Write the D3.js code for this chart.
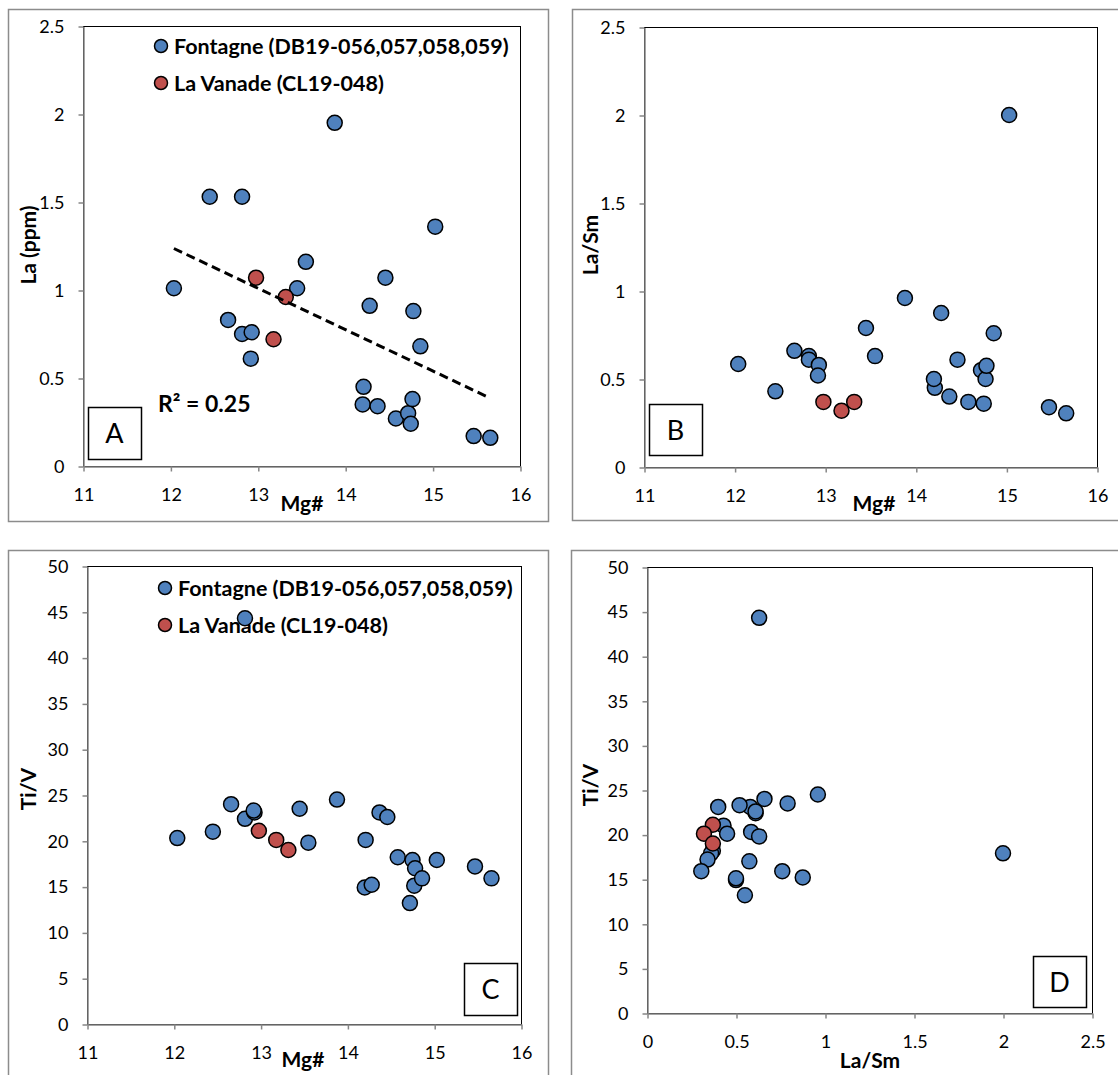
<!DOCTYPE html>
<html>
<head>
<meta charset="utf-8">
<script src="https://cdn.jsdelivr.net/npm/d3@7"></script>
<style>
  body { margin: 0; background: #fff; }
  svg { display: block; }
  text { font-family: Lato, "Open Sans", sans-serif; fill: #000; }
</style>
</head>
<body>
<svg id="chart" width="1118" height="1075"></svg>
<script>
// Fontagne samples (DB19-056, 057, 058, 059)
const mgFontagne   = [12.04, 12.45, 12.66, 12.82, 12.82, 12.93, 12.92, 13.45, 13.55, 13.88, 14.21, 14.20, 14.28, 14.37, 14.46, 14.58, 14.72, 14.75, 14.77, 14.78, 14.86, 15.03, 15.47, 15.66];
const laFontagne   = [1.01, 1.53, 0.83, 1.53, 0.75, 0.76, 0.61, 1.01, 1.16, 1.95, 0.45, 0.35, 0.91, 0.34, 1.07, 0.27, 0.30, 0.24, 0.38, 0.88, 0.68, 1.36, 0.17, 0.16];
const laSmFontagne = [0.585, 0.43, 0.66, 0.63, 0.61, 0.58, 0.52, 0.79, 0.63, 0.96, 0.45, 0.50, 0.875, 0.40, 0.61, 0.37, 0.55, 0.36, 0.50, 0.575, 0.76, 2.00, 0.34, 0.305];
const tiVFontagne  = [20.3, 21.0, 24.0, 44.3, 22.4, 23.1, 23.3, 23.5, 19.8, 24.5, 20.1, 14.9, 15.2, 23.1, 22.6, 18.2, 13.2, 17.9, 15.1, 17.0, 15.9, 17.9, 17.2, 15.9];

// La Vanade samples (CL19-048)
const mgVanade   = [12.98, 13.18, 13.32];
const laVanade   = [1.07, 0.72, 0.96];
const laSmVanade = [0.37, 0.32, 0.37];
const tiVVanade  = [21.1, 20.1, 19.0];

// Linear trend of La vs Mg# for the Fontagne series
const trendSlope = -0.2349;
const trendIntercept = 4.064;
const trendR2Label = "R² = 0.25";

// Axis ticks
const mgTicks   = [11, 12, 13, 14, 15, 16];
const laTicks   = [0, 0.5, 1, 1.5, 2, 2.5];
const laSmTicks = [0, 0.5, 1, 1.5, 2, 2.5];
const tiVTicks  = [0, 5, 10, 15, 20, 25, 30, 35, 40, 45, 50];

const seriesNames = ["Fontagne (DB19-056,057,058,059)", "La Vanade (CL19-048)"];
const seriesColors = ["#4F81BD", "#C0504D"];

const svg = d3.select("#chart");
const gray = "#868686";

function zip(xs, ys) { return xs.map((x, i) => ({ x, y: ys[i] })); }

function drawPanel(p) {
  const g = svg.append("g");

  // chart frame
  g.append("rect")
    .attr("x", p.frame[0] + 0.5).attr("y", p.frame[1] + 0.5)
    .attr("width", p.frame[2]).attr("height", p.frame[3])
    .attr("fill", "#fff").attr("stroke", "#8c8c8c").attr("stroke-width", 1.5);

  const x = d3.scaleLinear().domain(p.xDomain).range([p.plot.l, p.plot.r]);
  const y = d3.scaleLinear().domain(p.yDomain).range([p.plot.b, p.plot.t]);

  // plot area border
  g.append("rect")
    .attr("x", p.plot.l + 0.5).attr("y", p.plot.t + 0.5)
    .attr("width", p.plot.r - p.plot.l).attr("height", p.plot.b - p.plot.t)
    .attr("fill", "none").attr("stroke", "#000").attr("stroke-width", 1);

  const fmt = d => String(d);
  const ax = g.append("g")
    .attr("transform", `translate(0.5,${p.plot.b + 0.5})`)
    .call(d3.axisBottom(x).tickValues(p.xTicks).tickFormat(fmt).tickSize(5).tickSizeOuter(0).tickPadding(17));
  const ay = g.append("g")
    .attr("transform", `translate(${p.plot.l + 0.5},0.5)`)
    .call(d3.axisLeft(y).tickValues(p.yTicks).tickFormat(fmt).tickSize(5).tickSizeOuter(0).tickPadding(14));
  [ax, ay].forEach(a => {
    a.select(".domain").attr("stroke", gray).attr("stroke-width", 1.5);
    a.selectAll(".tick line").attr("stroke", gray).attr("stroke-width", 1.5);
    a.selectAll(".tick text").attr("font-size", 18).attr("font-family", "Lato, sans-serif").attr("fill", "#000");
  });

  // axis titles
  g.append("text").attr("x", p.xTitle[0]).attr("y", p.xTitle[1])
    .attr("text-anchor", "middle").attr("font-size", 21).attr("font-weight", "bold").text(p.xLabel);
  g.append("text")
    .attr("transform", `translate(${p.yTitle[0]},${p.yTitle[1]}) rotate(-90)`)
    .attr("text-anchor", "middle").attr("font-size", 21).attr("font-weight", "bold").text(p.yLabel);

  // panel letter box
  g.append("rect")
    .attr("x", p.box[0] + 0.5).attr("y", p.box[1] + 0.5)
    .attr("width", p.box[2]).attr("height", p.box[3])
    .attr("fill", "#fff").attr("stroke", "#000").attr("stroke-width", 1.5);
  g.append("text").attr("x", p.box[0] + p.box[2] / 2).attr("y", p.box[1] + p.box[3] / 2 + 10)
    .attr("text-anchor", "middle").attr("font-size", 27).text(p.letter);

  // legend
  if (p.legend) {
    seriesNames.forEach((name, i) => {
      const ly = p.legend[1] + i * 37;
      g.append("circle").attr("cx", p.legend[0]).attr("cy", ly).attr("r", 6.5)
        .attr("fill", seriesColors[i]).attr("stroke", "#000").attr("stroke-width", 1.5);
      g.append("text").attr("x", p.legend[0] + 13).attr("y", ly).attr("dy", "0.35em")
        .attr("font-size", 21.5).attr("font-weight", "bold").text(name);
    });
  }

  // points
  p.series.forEach((pts, i) => {
    g.append("g").selectAll("circle").data(pts).join("circle")
      .attr("cx", d => x(d.x)).attr("cy", d => y(d.y)).attr("r", 7.5)
      .attr("fill", seriesColors[i]).attr("stroke", "#000").attr("stroke-width", 1.5);
  });

  // trend line
  if (p.trend) {
    const ext = d3.extent(p.trend.xs);
    const line = d3.line().x(d => x(d)).y(d => y(p.trend.slope * d + p.trend.intercept));
    g.append("path").attr("d", line(ext))
      .attr("fill", "none").attr("stroke", "#000").attr("stroke-width", 3)
      .attr("stroke-dasharray", "9,5");
    g.append("text").attr("x", p.trend.label[0]).attr("y", p.trend.label[1])
      .attr("font-size", 23).attr("font-weight", "bold").text(p.trend.text);
  }
}

// A: La vs Mg#
drawPanel({
  frame: [8, 9, 540, 512], plot: { l: 83, r: 520, t: 26, b: 466 },
  xDomain: [11, 16], yDomain: [0, 2.5], xTicks: mgTicks, yTicks: laTicks,
  xLabel: "Mg#", yLabel: "La (ppm)", xTitle: [302, 511], yTitle: [36, 245],
  box: [88, 407, 53, 52], letter: "A", legend: [161, 46],
  series: [zip(mgFontagne, laFontagne), zip(mgVanade, laVanade)],
  trend: { xs: mgFontagne, slope: trendSlope, intercept: trendIntercept, text: trendR2Label, label: [158, 412] }
});

// B: La/Sm vs Mg#
drawPanel({
  frame: [572, 9, 560, 511], plot: { l: 644, r: 1097, t: 27, b: 467 },
  xDomain: [11, 16], yDomain: [0, 2.5], xTicks: mgTicks, yTicks: laSmTicks,
  xLabel: "Mg#", yLabel: "La/Sm", xTitle: [874, 511], yTitle: [598, 245],
  box: [649, 404, 53, 51], letter: "B",
  series: [zip(mgFontagne, laSmFontagne), zip(mgVanade, laSmVanade)]
});

// C: Ti/V vs Mg#
drawPanel({
  frame: [8, 550, 540, 560], plot: { l: 87, r: 521, t: 566, b: 1024 },
  xDomain: [11, 16], yDomain: [0, 50], xTicks: mgTicks, yTicks: tiVTicks,
  xLabel: "Mg#", yLabel: "Ti/V", xTitle: [303, 1067], yTitle: [36, 789],
  box: [464, 963, 53, 52], letter: "C", legend: [165, 588],
  series: [zip(mgFontagne, tiVFontagne), zip(mgVanade, tiVVanade)]
});

// D: Ti/V vs La/Sm
drawPanel({
  frame: [571, 550, 560, 560], plot: { l: 647, r: 1092, t: 567, b: 1013 },
  xDomain: [0, 2.5], yDomain: [0, 50], xTicks: laSmTicks, yTicks: tiVTicks,
  xLabel: "La/Sm", yLabel: "Ti/V", xTitle: [870, 1068], yTitle: [598, 785],
  box: [1033, 956, 53, 51], letter: "D",
  series: [zip(laSmFontagne, tiVFontagne), zip(laSmVanade, tiVVanade)]
});
</script>
</body>
</html>
